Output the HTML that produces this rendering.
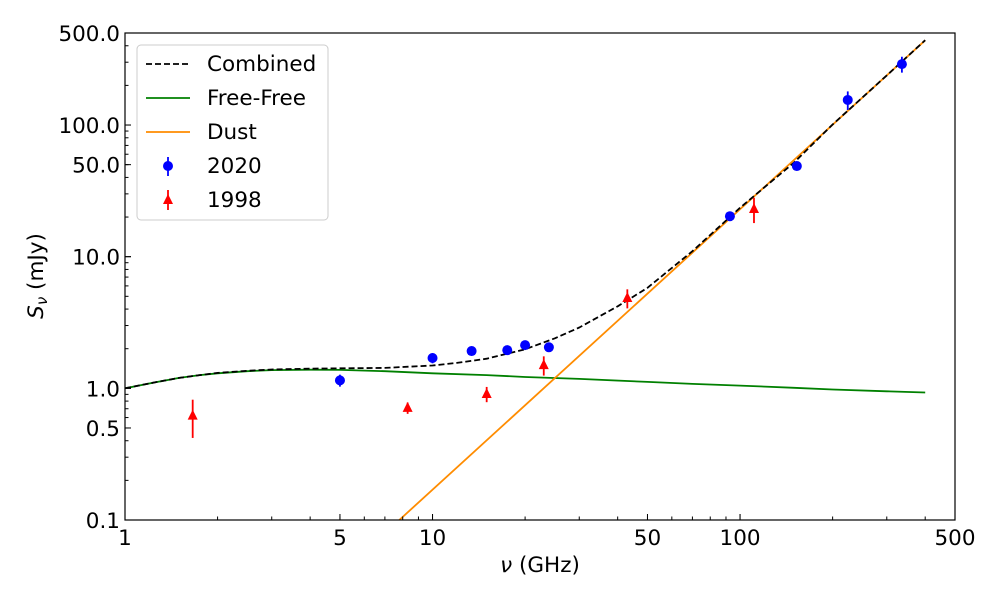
<!DOCTYPE html>
<html><head><meta charset="utf-8"><style>
body{margin:0;background:#fff}
svg text{font-family:"DejaVu Sans","Liberation Sans",sans-serif;fill:#000}
</style></head><body>
<svg id="c" width="1000" height="600"></svg>
<script>
const ffFreq=[1,1.25,1.5,1.75,2,2.5,3,4,5,7,10,15,20,30,50,70,100,150,200,300,400];
const ffFlux=[1.0,1.11,1.2,1.26,1.3,1.35,1.375,1.385,1.38,1.35,1.3,1.26,1.22,1.18,1.12,1.08,1.05,1.01,0.98,0.95,0.93];
const dustFreq=[7.8,400];
const dustFlux=[0.1,440];
const combFreq=[1,1.25,1.5,1.75,2,2.5,3,4,5,7,10,12,15,20,25,30,40,50,70,100,150,200,300,400];
const combFlux=[1.0,1.11,1.2,1.26,1.31,1.36,1.39,1.41,1.42,1.43,1.49,1.56,1.68,1.98,2.4,2.9,4.2,5.8,11,23.5,52,101,238,441];
const f2020=[5.0,10,13.4,17.5,20,23.9,92.7,153,224,336];
const s2020=[1.15,1.7,1.92,1.95,2.13,2.05,20.3,48.8,155,290];
const e2020=[0.12,0.15,0.15,0.15,0.17,0.15,1.5,3,25,40];
const f1998=[1.66,8.3,15,23,43,111];
const s1998=[0.62,0.71,0.905,1.5,4.85,23];
const e1998=[0.2,0.07,0.12,0.25,0.8,5];
const xTicks=[1,5,10,50,100,500];
const xTickLabels=["1","5","10","50","100","500"];
const yTicks=[0.1,0.5,1,10,50,100,500];
const yTickLabels=["0.1","0.5","1.0","10.0","50.0","100.0","500.0"];

const L=125,R=955,T=33,B=520;
const X=v=>L+(Math.log10(v)-0)/Math.log10(500)*(R-L);
const Y=v=>B-(Math.log10(v)+1)/Math.log10(5000)*(B-T);
const svg=document.getElementById('c');const NS='http://www.w3.org/2000/svg';
function mk(t,a,p){const e=document.createElementNS(NS,t);for(const k in a)e.setAttribute(k,a[k]);(p||svg).appendChild(e);return e;}
const defs=mk('defs',{});const cp=mk('clipPath',{id:'cp'},defs);mk('rect',{x:L,y:T,width:R-L,height:B-T},cp);
const g=mk('g',{'clip-path':'url(#cp)'});
function line(fs,ss,col,dash,name){const d=fs.map((f,i)=>(i?'L':'M')+X(f).toFixed(1)+','+Y(ss[i]).toFixed(1)).join('');
const p=mk('path',{d:d,fill:'none',stroke:col,'stroke-width':1.8,'stroke-dasharray':dash||'none','stroke-linejoin':'round'},g);

}
line(ffFreq,ffFlux,'#008000',null,'free-free-line');
line(dustFreq,dustFlux,'#ff8c00',null,'dust-line');
line(combFreq,combFlux,'#000','6,3','combined-line');
f2020.forEach((f,i)=>{const x=X(f);
const l=mk('line',{x1:x,x2:x,y1:Y(s2020[i]+e2020[i]),y2:Y(s2020[i]-e2020[i]),stroke:'#0000ff','stroke-width':1.8},g);


const c=mk('circle',{cx:x,cy:Y(s2020[i]),r:5,fill:'#0000ff'},g);

});
f1998.forEach((f,i)=>{const x=X(f),y=Y(s1998[i]);
const l=mk('line',{x1:x,x2:x,y1:Y(s1998[i]+e1998[i]),y2:Y(s1998[i]-e1998[i]),stroke:'#ff0000','stroke-width':1.8},g);


const p=mk('polygon',{points:`${x},${y-6} ${x-5},${y+4} ${x+5},${y+4}`,fill:'#ff0000'},g);

});
const fr=mk('rect',{x:L,y:T,width:R-L,height:B-T,fill:'none',stroke:'#000','stroke-width':1.2});


for(let d=0;d<3;d++)for(let m=1;m<10;m++){const v=m*Math.pow(10,d);if(v>500)break;const x=X(v);const big=m===1;
mk('line',{x1:x,x2:x,y1:B,y2:B-(big?6:3.5),stroke:'#000','stroke-width':1});}
xTicks.forEach((v,i)=>{const x=X(v);mk('line',{x1:x,x2:x,y1:B,y2:B-6,stroke:'#000','stroke-width':1});
const t=mk('text',{x:x,y:B+25,'text-anchor':'middle','font-size':21.5});t.textContent=xTickLabels[i];

});
for(let d=-1;d<3;d++)for(let m=1;m<10;m++){const v=m*Math.pow(10,d);if(v>500)break;const y=Y(v);
mk('line',{x1:L,x2:L+(m===1?6:3.5),y1:y,y2:y,stroke:'#000','stroke-width':1});}
yTicks.forEach((v,i)=>{const y=Y(v);mk('line',{x1:L,x2:L+6,y1:y,y2:y,stroke:'#000','stroke-width':1});
const t=mk('text',{x:L-5,y:y+8,'text-anchor':'end','font-size':21.5});t.textContent=yTickLabels[i];

});
</script>
<svg width="1000" height="600" style="position:absolute;left:0;top:0">
<text x="540" y="572" text-anchor="middle" font-size="21.5"><tspan font-style="italic">ν</tspan> (GHz)</text>
<text transform="translate(43,276) rotate(-90)" text-anchor="middle" font-size="21.5"><tspan font-style="italic">S</tspan><tspan font-style="italic" font-size="15" dy="4">ν</tspan><tspan dy="-4"> (mJy)</tspan></text>
<g>
<rect x="137" y="45" width="191" height="175" rx="4" fill="#fff" fill-opacity="0.8" stroke="#ccc"/>
<g><line x1="146" x2="190" y1="64" y2="64" stroke="#000" stroke-width="1.8" stroke-dasharray="6,3"/><text x="207" y="71" font-size="21.5">Combined</text></g>
<g><line x1="146" x2="190" y1="98" y2="98" stroke="#008000" stroke-width="1.8"/><text x="207" y="105" font-size="21.5">Free-Free</text></g>
<g><line x1="146" x2="190" y1="132" y2="132" stroke="#ff8c00" stroke-width="1.8"/><text x="207" y="139" font-size="21.5">Dust</text></g>
<g><line x1="168" x2="168" y1="157" y2="176" stroke="#0000ff" stroke-width="1.8"/><circle cx="168" cy="166" r="5" fill="#0000ff"/><text x="207" y="173" font-size="21.5">2020</text></g>
<g><line x1="168" x2="168" y1="190" y2="210" stroke="#ff0000" stroke-width="1.8"/><polygon points="168,194 163,204 173,204" fill="#ff0000"/><text x="207" y="207" font-size="21.5">1998</text></g>
</g>
</svg>
</body></html>
